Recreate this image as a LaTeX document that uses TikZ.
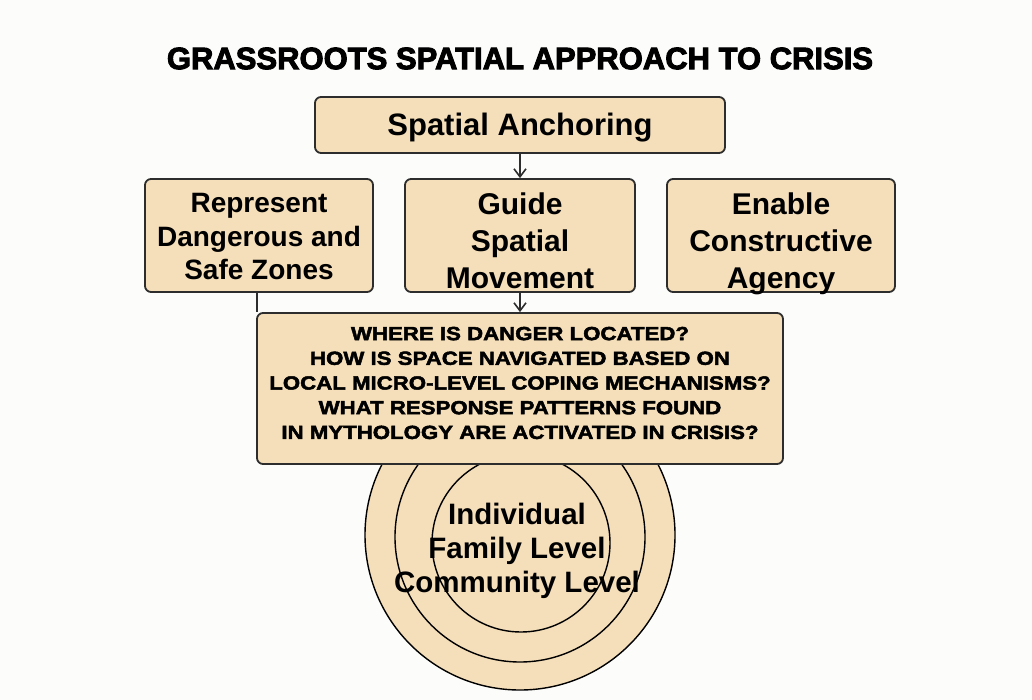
\documentclass[tikz,border=0pt]{standalone}
\usepackage{fontspec}
\setmainfont{Liberation Sans}
\newfontfamily\heavyfont[FakeBold=3]{Liberation Sans Bold}
\newfontfamily\qfont[FakeBold=2.5,FakeStretch=1.17]{Liberation Sans Bold}
\usetikzlibrary{arrows.meta}
\definecolor{boxfill}{RGB}{245,223,186}
\definecolor{boxline}{RGB}{45,45,45}
\definecolor{paper}{RGB}{252,252,250}
% centred stack of lines, drawn #1 lower than its box
\newcommand{\linestack}[2]{\raisebox{-#1}[\height][\depth]{\begin{tabular}{@{}c@{}}#2\end{tabular}}}
\begin{document}
\begin{tikzpicture}[x=1pt,y=-1pt,
  box/.style={draw=boxline,fill=boxfill,line width=1.8pt,rounded corners=6pt,
    inner sep=0pt,align=center},
  ring/.style={circle,draw=black,fill=boxfill,line width=1.4pt,inner sep=0pt},
  link/.style={draw=boxline,line width=1.7pt},
  arr/.style={link,-{Straight Barb[length=8pt,width=12pt,line width=1.6pt]}},
  midtext/.style={font=\bfseries\fontsize{30}{37}\selectfont},
  sidetext/.style={font=\bfseries\fontsize{28}{33.5}\selectfont}]
% page
\fill[paper] (0,0) rectangle (1032,700);
\useasboundingbox (0,0) rectangle (1032,700);

% heading
\node[font=\heavyfont\fontsize{31}{36}\selectfont] (title) at (520,58.5)
  {GRASSROOTS SPATIAL APPROACH TO CRISIS};

% nested levels
\node[ring,minimum size=310pt] (outer) at (520,535) {};
\node[ring,minimum size=250pt] (middle) at (520,537) {};
\node[ring,minimum size=178pt] (inner) at (521,543) {};
\node[font=\bfseries\fontsize{29.5}{34}\selectfont,align=center] (levels) at (517,551)
  {Individual\\Family Level\\Community Level};

% boxes
\node[box,minimum width=410pt,minimum height=56pt,
  font=\bfseries\fontsize{31}{36}\selectfont] (anchor) at (520,125)
  {\raisebox{-3pt}[\height][\depth]{Spatial Anchoring}};
\node[box,sidetext,minimum width=228pt,minimum height=113pt] (rep) at (259,235.5)
  {\linestack{4pt}{Represent\\Dangerous and\\Safe Zones}};
\node[box,midtext,minimum width=230pt,minimum height=113pt] (guide) at (520,235.5)
  {\linestack{8.5pt}{Guide\\Spatial\\Movement}};
\node[box,midtext,minimum width=228pt,minimum height=113pt] (enable) at (781,235.5)
  {\linestack{8.5pt}{Enable\\Constructive\\Agency}};

\node[box,minimum width=526pt,minimum height=151pt] (q) at (520,388.5) {};
\node[font=\qfont\fontsize{19}{24.7}\selectfont,align=center,inner sep=0pt] (qtext) at (520,383)
  {WHERE IS DANGER LOCATED?\\HOW IS SPACE NAVIGATED BASED ON\\LOCAL MICRO-LEVEL COPING MECHANISMS?\\WHAT RESPONSE PATTERNS FOUND\\IN MYTHOLOGY ARE ACTIVATED IN CRISIS?};

% connectors
\draw[arr] (anchor.south) -- (guide.north);
\draw[arr] (guide.south) -- (q.north);
\draw[link] ([xshift=1.2pt]rep.south -| q.west) -- ([xshift=1.2pt]q.north west);
\end{tikzpicture}
\end{document}
